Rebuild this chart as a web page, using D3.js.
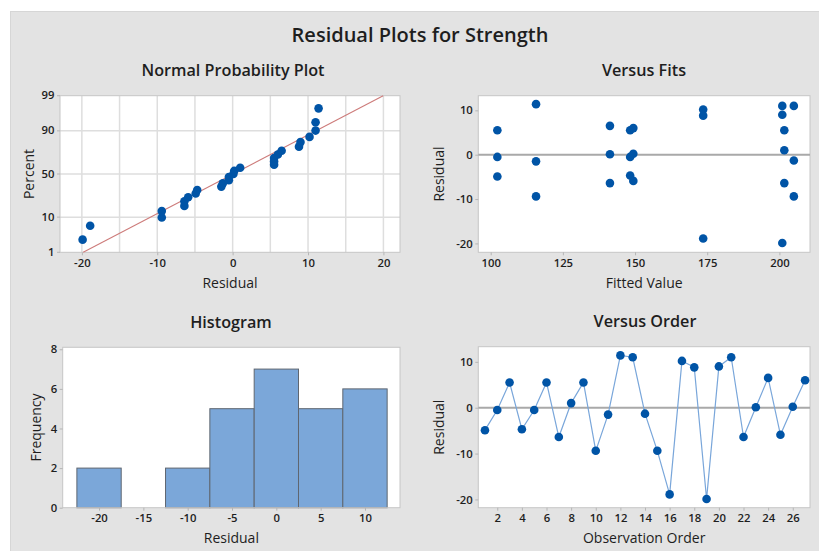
<!DOCTYPE html>
<html><head><meta charset="utf-8">
<script src="https://cdn.jsdelivr.net/npm/d3@7"></script>
<style>
body{margin:0;background:#fff;}
svg text{font-family:"Open Sans",sans-serif;fill:#1e1e1e;}
</style></head><body>
<svg id="c" width="819" height="551"></svg>
<script>
// ---- data ----
const observation = [1,2,3,4,5,6,7,8,9,10,11,12,13,14,15,16,17,18,19,20,21,22,23,24,25,26,27];
const residuals = [-4.9,-0.5,5.5,-4.7,-0.5,5.5,-6.4,1.0,5.5,-9.4,-1.5,11.4,11.0,-1.3,-9.4,-18.9,10.2,8.8,-19.9,9.0,11.0,-6.4,0.1,6.5,-5.9,0.2,6.0];
const fittedValues = [102.3,102.3,102.3,148.3,148.3,148.3,201.7,201.7,201.7,115.7,115.7,115.7,205.0,205.0,205.0,173.6,173.6,173.6,201.0,201.0,201.0,141.3,141.3,141.3,149.4,149.4,149.4];
const histBinCenters = [-20,-15,-10,-5,0,5,10];
const histCounts = [2,0,2,5,7,5,6];
const histBinWidth = 5;
const probTicks = [1,10,50,90,99];
const probXTicks = [-20,-10,0,10,20];
const probXGrid = [-20,-15,-10,-5,0,5,10,15,20];
const fitsXTicks = [100,125,150,175,200];
const residTicks = [-20,-10,0,10];
const histXTicks = [-20,-15,-10,-5,0,5,10];
const histYTicks = [0,2,4,6,8];
const orderTicks = [2,4,6,8,10,12,14,16,18,20,22,24,26];

// inverse standard normal CDF (Acklam)
function qnorm(p){
  const a=[-3.969683028665376e+01,2.209460984245205e+02,-2.759285104469687e+02,1.383577518672690e+02,-3.066479806614716e+01,2.506628277459239e+00];
  const b=[-5.447609879822406e+01,1.615858368580409e+02,-1.556989798598866e+02,6.680131188771972e+01,-1.328068155288572e+01];
  const c=[-7.784894002430293e-03,-3.223964580411365e-01,-2.400758277161838e+00,-2.549732539343734e+00,4.374664141464968e+00,2.938163982698783e+00];
  const d=[7.784695709041462e-03,3.224671290700398e-01,2.445134137142996e+00,3.754408661907416e+00];
  const pl=0.02425, ph=1-pl; let q,r;
  if(p<pl){q=Math.sqrt(-2*Math.log(p));return (((((c[0]*q+c[1])*q+c[2])*q+c[3])*q+c[4])*q+c[5])/((((d[0]*q+d[1])*q+d[2])*q+d[3])*q+1);}
  if(p<=ph){q=p-0.5;r=q*q;return (((((a[0]*r+a[1])*r+a[2])*r+a[3])*r+a[4])*r+a[5])*q/(((((b[0]*r+b[1])*r+b[2])*r+b[3])*r+b[4])*r+1);}
  q=Math.sqrt(-2*Math.log(1-p));return -(((((c[0]*q+c[1])*q+c[2])*q+c[3])*q+c[4])*q+c[5])/((((d[0]*q+d[1])*q+d[2])*q+d[3])*q+1);
}

const svg = d3.select("#c");
const BLUE = "#0054a6";
svg.append("rect").attr("x",10).attr("y",11).attr("width",809).attr("height",540).attr("fill","#e3e3e3");
svg.append("line").attr("x1",10).attr("x2",819).attr("y1",11.5).attr("y2",11.5).attr("stroke","#d6d6d6");
svg.append("line").attr("x1",10.5).attr("x2",10.5).attr("y1",11).attr("y2",551).attr("stroke","#d6d6d6");

svg.append("text").attr("x",420).attr("y",42).attr("text-anchor","middle")
  .style("font-size","20px").style("font-weight","600").text("Residual Plots for Strength");

function panel(o){
  const g = svg.append("g");
  g.append("rect").attr("x",o.x0).attr("y",o.y0).attr("width",o.x1-o.x0).attr("height",o.y1-o.y0).attr("fill","#fff");
  g.append("text").attr("x",o.tx).attr("y",o.y0-19.5).attr("text-anchor","middle")
    .style("font-size","16.2px").style("font-weight","600").text(o.title);
  g.append("text").attr("x",(o.x0+o.x1)/2).attr("y",o.y1+35.5).attr("text-anchor","middle")
    .style("font-size","14px").style("font-weight","500").text(o.xlabel);
  g.append("text").attr("transform",`translate(${o.ylx},${(o.y0+o.y1)/2}) rotate(-90)`).attr("text-anchor","middle")
    .attr("dy","0.35em").style("font-size","14px").style("font-weight","500").text(o.ylabel);
  return g;
}
function axes(g,x,y,o,xt,yt,xf,yf){
  const ax = g.append("g").attr("transform",`translate(0,${o.y1})`)
    .call(d3.axisBottom(x).tickValues(xt).tickSize(3).tickPadding(3.5).tickFormat(xf||(d=>d)));
  const ay = g.append("g").attr("transform",`translate(${o.x0},0)`)
    .call(d3.axisLeft(y).tickValues(yt).tickSize(3).tickPadding(2.5).tickFormat(yf||(d=>d)));
  [ax,ay].forEach(a=>{
    a.select(".domain").remove();
    a.selectAll(".tick line").attr("stroke","#b5b5b5");
    a.selectAll(".tick text").style("font-size","11.3px").style("font-weight","600").style("font-family","'Open Sans',sans-serif").attr("fill","#222");
  });
}
function frame(g,o){
  g.append("rect").attr("x",o.x0).attr("y",o.y0).attr("width",o.x1-o.x0).attr("height",o.y1-o.y0)
    .attr("fill","none").attr("stroke","#c6c6c6");
}

// ---- Panel 1: Normal probability plot ----
{
  const o={x0:60,x1:400,y0:95.7,y1:252.3,tx:233,title:"Normal Probability Plot",xlabel:"Residual",ylabel:"Percent",ylx:29};
  const g=panel(o);
  const x=d3.scaleLinear().domain([-22.9,22.2]).range([o.x0,o.x1]);
  const zy=d3.scaleLinear().domain([qnorm(0.01),qnorm(0.99)]).range([o.y1,o.y0]);
  const y=p=>zy(qnorm(p/100));
  g.selectAll(".vg").data(probXGrid).join("line").attr("x1",d=>x(d)).attr("x2",d=>x(d)).attr("y1",o.y0).attr("y2",o.y1)
    .attr("stroke","#dedede").attr("stroke-width",1.5);
  g.selectAll(".hg").data(probTicks.slice(1,-1)).join("line").attr("x1",o.x0).attr("x2",o.x1).attr("y1",d=>y(d)).attr("y2",d=>y(d))
    .attr("stroke","#dedede").attr("stroke-width",1.5);
  frame(g,o);
  const ys=d3.scaleLinear().domain([0.01,0.99]).range([o.y1,o.y0]);
  axes(g,x,ys,o,probXTicks,[],null,null);
  // y ticks for probability scale
  const ay=g.append("g");
  probTicks.forEach(p=>{
    ay.append("line").attr("x1",o.x0-3).attr("x2",o.x0).attr("y1",y(p)).attr("y2",y(p)).attr("stroke","#b5b5b5");
    ay.append("text").attr("x",o.x0-5.5).attr("y",y(p)).attr("dy","0.32em").attr("text-anchor","end")
      .style("font-size","11.3px").style("font-weight","600").attr("fill","#222").text(p);
  });
  const n=residuals.length;
  const sorted=residuals.slice().sort((a,b)=>a-b);
  const pts=sorted.map((r,i)=>({r,p:100*(i+1-0.3)/(n+0.4)}));
  const m=d3.mean(residuals), s=d3.deviation(residuals);
  g.append("line").attr("x1",x(m+s*qnorm(0.01))).attr("y1",y(1)).attr("x2",x(m+s*qnorm(0.99))).attr("y2",y(99))
    .attr("stroke","#cd7b7a").attr("stroke-width",1.1);
  g.selectAll(".pt").data(pts).join("circle").attr("cx",d=>x(d.r)).attr("cy",d=>y(d.p)).attr("r",4.3).attr("fill",BLUE);
}

// ---- Panel 2: Versus fits ----
{
  const o={x0:478.3,x1:810,y0:95.7,y1:252.3,tx:644,title:"Versus Fits",xlabel:"Fitted Value",ylabel:"Residual",ylx:439.3};
  const g=panel(o);
  const x=d3.scaleLinear().domain([95.7,210.6]).range([o.x0,o.x1]);
  const y=d3.scaleLinear().domain([-22,13.3]).range([o.y1,o.y0]);
  frame(g,o);
  axes(g,x,y,o,fitsXTicks,residTicks);
  g.append("line").attr("x1",o.x0).attr("x2",o.x1).attr("y1",y(0)).attr("y2",y(0)).attr("stroke","#a9a9a9").attr("stroke-width",2);
  g.selectAll(".pt").data(residuals).join("circle").attr("cx",(d,i)=>x(fittedValues[i])).attr("cy",d=>y(d)).attr("r",4.3).attr("fill",BLUE);
}

// ---- Panel 3: Histogram ----
{
  const o={x0:62.7,x1:400,y0:347.3,y1:507.7,tx:231,title:"Histogram",xlabel:"Residual",ylabel:"Frequency",ylx:36};
  const g=panel(o);
  const x=d3.scaleLinear().domain([-24.1,13.95]).range([o.x0,o.x1]);
  const y=d3.scaleLinear().domain([0,8.1]).range([o.y1,o.y0]);
  g.selectAll(".bar").data(histCounts).join("rect")
    .attr("x",(d,i)=>x(histBinCenters[i]-histBinWidth/2)).attr("width",(d,i)=>x(histBinCenters[i]+histBinWidth/2)-x(histBinCenters[i]-histBinWidth/2))
    .attr("y",d=>y(d)).attr("height",d=>y(0)-y(d))
    .attr("fill","#7ba7d9").attr("stroke","#5f6670").attr("stroke-width",1);
  frame(g,o);
  axes(g,x,y,o,histXTicks,histYTicks);
}

// ---- Panel 4: Versus order ----
{
  const o={x0:478.3,x1:810,y0:346.7,y1:507.7,tx:645,title:"Versus Order",xlabel:"Observation Order",ylabel:"Residual",ylx:439.3};
  const g=panel(o);
  const x=d3.scaleLinear().domain([0.46,27.4]).range([o.x0,o.x1]);
  const y=d3.scaleLinear().domain([-21.8,13.3]).range([o.y1,o.y0]);
  frame(g,o);
  axes(g,x,y,o,orderTicks,residTicks);
  g.append("line").attr("x1",o.x0).attr("x2",o.x1).attr("y1",y(0)).attr("y2",y(0)).attr("stroke","#a9a9a9").attr("stroke-width",2);
  g.append("path").datum(residuals).attr("fill","none").attr("stroke","#79a6da").attr("stroke-width",1.2)
    .attr("d",d3.line().x((d,i)=>x(observation[i])).y(d=>y(d)));
  g.selectAll(".pt").data(residuals).join("circle").attr("cx",(d,i)=>x(observation[i])).attr("cy",d=>y(d)).attr("r",4.3).attr("fill",BLUE);
}
</script></body></html>
